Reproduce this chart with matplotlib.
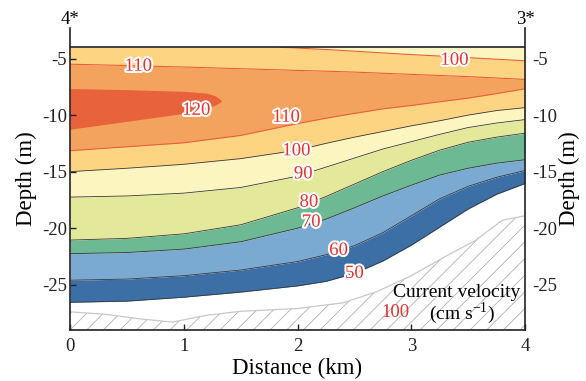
import matplotlib.pyplot as plt
import matplotlib.patheffects as pe

plt.rcParams['font.family'] = ['Liberation Serif', 'DejaVu Serif']
plt.rcParams['mathtext.fontset'] = 'stix'
plt.rcParams['axes.unicode_minus'] = False
plt.rcParams['hatch.linewidth'] = 0.6
plt.rcParams['hatch.color'] = '#b0b0b0'

# distance along the section (km) where the isolines were read
dist = [0, 0.5, 1, 1.5, 2, 2.25, 2.5, 2.75, 3, 3.25, 3.5, 3.75, 4]

# depth (m) of each current velocity isoline (cm/s)
iso110_up = [-5.5, -5.62, -5.75, -5.9, -6.05, -6.12, -6.2, -6.3, -6.4, -6.5, -6.6, -6.72, -6.85]
iso110_lo = [-13.15, -12.8, -12.45, -11.8, -10.75, -10.28, -9.85, -9.45, -9.15, -8.82, -8.5, -8.1, -7.67]
iso100 = [-15.0, -14.7, -14.35, -13.85, -13.1, -12.5, -11.95, -11.45, -10.95, -10.5, -10.0, -9.6, -9.34]
iso90 = [-17.25, -17.15, -16.9, -16.4, -15.4, -14.6, -13.8, -13.0, -12.35, -11.7, -11.1, -10.7, -10.4]
iso80 = [-21.05, -20.9, -20.5, -19.7, -18.2, -17.2, -16.1, -15.0, -14.0, -13.1, -12.4, -11.95, -11.6]
iso70 = [-22.25, -22.15, -21.85, -21.2, -20.0, -19.2, -18.2, -17.15, -16.2, -15.3, -14.7, -14.25, -13.95]
iso60 = [-24.6, -24.5, -24.2, -23.7, -22.95, -22.35, -21.55, -20.4, -18.9, -17.4, -16.3, -15.5, -14.9]
iso50 = [-26.55, -26.45, -26.1, -25.65, -25.1, -24.7, -24.0, -22.9, -21.5, -19.9, -18.3, -17.0, -16.05]

# 100 isoline reaching the surface on the right
top100_x = [1.85, 2.25, 2.5, 2.75, 3, 3.25, 3.5, 3.75, 4]
top100_d = [-4.0, -4.2, -4.35, -4.5, -4.65, -4.78, -4.92, -5.06, -5.2]

# 120 core
core_x = [0, 0.5, 1.0, 1.2, 1.28, 1.33]
core_top = [-7.65, -7.75, -7.9, -8.05, -8.3, -8.7]
core_bot = [-11.25, -10.55, -9.85, -9.4, -9.1, -8.8]

# sea bed
seabed_x = [0, 0.3, 0.6, 0.9, 1.2, 1.5, 2.0, 2.4, 2.7, 3.0, 3.3, 3.56, 3.8, 4.0]
seabed_d = [-27.4, -27.6, -28.0, -28.3, -27.7, -27.35, -27.1, -26.6, -25.6, -24.2, -22.5, -21.1, -19.3, -18.9]

surface = -4
bottom = -29

# contour labels: text, distance, depth
lab_text = ['110', '120', '110', '100', '90', '80', '70', '60', '50', '100']
lab_x = [0.6, 1.11, 1.9, 1.99, 2.05, 2.1, 2.12, 2.36, 2.5, 3.38]
lab_d = [-5.68, -9.58, -10.2, -13.16, -15.2, -17.7, -19.47, -21.96, -24.0, -5.15]

c_core = '#e8633b'
c_110 = '#f4a35e'
c_100 = '#fdd482'
c_90 = '#fdf5c0'
c_80 = '#e4e89a'
c_70 = '#6cb994'
c_60 = '#7aa9d1'
c_50 = '#3b6fa5'
red = '#e8312f'

fig = plt.figure(figsize=(5.86, 3.81), dpi=100)
ax = fig.add_axes([0.1195, 0.1339, 0.7765, 0.7926])

# colour bands
ax.fill_between(dist, iso50, iso60, color=c_50, lw=0)
ax.fill_between(dist, iso60, iso70, color=c_60, lw=0)
ax.fill_between(dist, iso70, iso80, color=c_70, lw=0)
ax.fill_between(dist, iso80, iso90, color=c_80, lw=0)
ax.fill_between(dist, iso90, iso100, color=c_90, lw=0)
ax.fill_between(dist, iso100, iso110_lo, color=c_100, lw=0)
ax.fill_between(dist, iso110_lo, iso110_up, color=c_110, lw=0)
ax.fill_between(dist, iso110_up, surface, color=c_100, lw=0)
ax.fill_between(top100_x, top100_d, surface, color=c_90, lw=0)
ax.fill_between(core_x, core_bot, core_top, color=c_core, lw=0)

# isolines
for iso in [iso110_up, iso110_lo]:
    ax.plot(dist, iso, color='#e8603a', lw=0.8)
ax.plot(top100_x, top100_d, color='#e8603a', lw=0.8)
for iso in [iso100, iso90, iso80, iso70, iso60, iso50]:
    ax.plot(dist, iso, color='#3a3a3a', lw=0.6)

# sea bed
ax.fill_between(seabed_x, seabed_d, bottom, facecolor='none', edgecolor='#b0b0b0',
                hatch='//', lw=0)
ax.plot(seabed_x, seabed_d, color='#c8c8c8', lw=0.9)

# surface line
ax.axhline(surface, color='#222222', lw=1.2)

for t, x, d in zip(lab_text, lab_x, lab_d):
    ax.text(x, d, t, color=red, fontsize=13.5, ha='center', va='center',
            path_effects=[pe.withStroke(linewidth=3, foreground='white')])

ax.set_xlim(0, 4)
ax.set_ylim(bottom, -2.3)
ax.set_xticks([0, 1, 2, 3, 4])
ax.set_yticks([-25, -20, -15, -10, -5])
ax.spines['top'].set_visible(False)
for s in ['left', 'right', 'bottom']:
    ax.spines[s].set_linewidth(1.2)
    ax.spines[s].set_color('#222222')
ax.tick_params(axis='both', direction='in', length=4, width=1, labelsize=13.5,
               colors='#222222', right=True)
ax.tick_params(axis='y', pad=2)
ax.tick_params(axis='x', pad=6)
ax.set_xlabel('Distance (km)', fontsize=16.5, labelpad=2)
ax.set_ylabel('Depth (m)', fontsize=16.5, labelpad=4)

ax2 = ax.twinx()
ax2.set_ylim(ax.get_ylim())
ax2.set_yticks([-25, -20, -15, -10, -5])
ax2.tick_params(axis='y', direction='in', length=0, labelsize=13.5, pad=5, colors='#222222')
for s in ax2.spines.values():
    s.set_visible(False)
ax2.set_ylabel('Depth (m)', fontsize=16.5, labelpad=1)

ax.text(0, -2.3, '4*', fontsize=13.5, ha='center', va='bottom')
ax.text(4, -2.3, '3*', fontsize=13.5, ha='center', va='bottom')

# legend text
ax.text(3.4, -25.7, 'Current velocity', fontsize=14, ha='center', va='center')
ax.text(3.45, -27.5, '(cm s$^{\\mathregular{-1}}$)', fontsize=14, ha='center', va='center')
ax.text(2.86, -27.45, '100', fontsize=13.5, color=red, ha='center', va='center')

fig.savefig('out.png', dpi=100)
